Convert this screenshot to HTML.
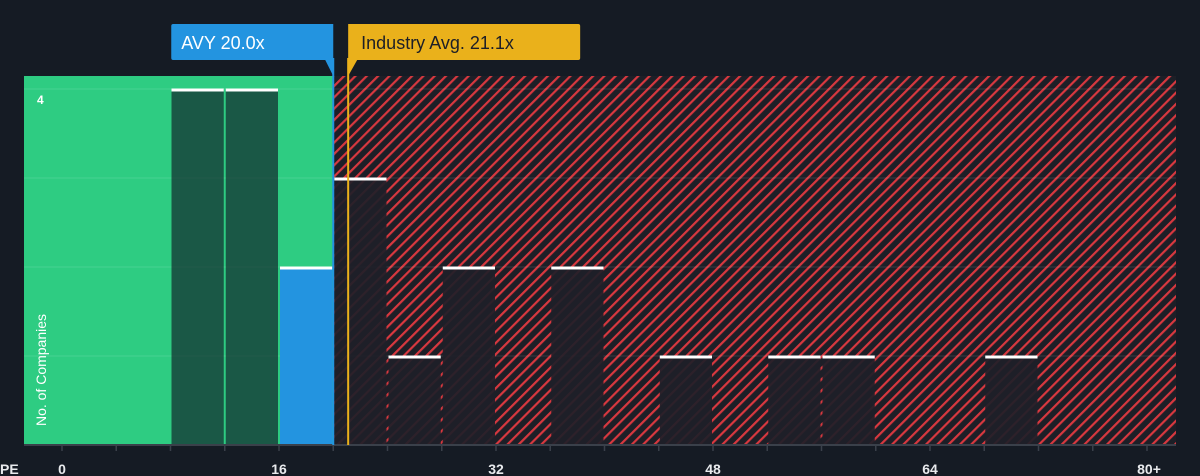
<!DOCTYPE html>
<html><head><meta charset="utf-8"><style>
body{margin:0;background:#151b24;}
svg{display:block;font-family:"Liberation Sans",sans-serif;}
</style></head><body>
<svg width="1200" height="476" viewBox="0 0 1200 476">
<defs>
<pattern id="hatch" patternUnits="userSpaceOnUse" width="8" height="8" patternTransform="rotate(45)">
<rect width="8" height="8" fill="#1d1f27"/>
<rect width="2.2" height="8" fill="#d8383f"/>
</pattern>
</defs>
<g id="bg"></g>
<g id="grid"></g>
<g id="bars"></g>
<g id="axis"></g>
<g id="markers"></g>
</svg>
<script>
const binStarts=[8,12,16,20,24,28,32,36,40,44,48,52,56,60,64,68,72];
const counts=[4,4,2,3,1,2,0,2,0,1,0,1,1,0,0,1,0];
const xTicks=[0,16,32,48,64,80];
const xTickLabels=["0","16","32","48","64","80+"];
const avyPE=20.0;
const industryPE=21.1;
const binWidth=4;
const NS="http://www.w3.org/2000/svg";
const X0=62,XS=217/16,Y0=445,YS=89;
const x=v=>X0+v*XS, y=v=>Y0-v*YS;
function mk(tag,attrs,parent){const e=document.createElementNS(NS,tag);for(const k in attrs)e.setAttribute(k,attrs[k]);parent.appendChild(e);return e;}
const bgG=document.getElementById('bg'),gridG=document.getElementById('grid'),barsG=document.getElementById('bars'),axisG=document.getElementById('axis'),markG=document.getElementById('markers');
const PLEFT=24,PRIGHT=1176,PTOP=76;
let r=mk('rect',{x:PLEFT,y:PTOP,width:x(avyPE)-PLEFT,height:Y0-PTOP,fill:'#2ecc82'},bgG);


r=mk('rect',{x:x(avyPE),y:PTOP,width:PRIGHT-x(avyPE),height:Y0-PTOP,fill:'url(#hatch)'},bgG);


[1,2,3,4].forEach(v=>{const l=mk('line',{x1:PLEFT,x2:PRIGHT,y1:y(v),y2:y(v),stroke:'rgba(255,255,255,0.12)','stroke-width':1},gridG);

});
binStarts.forEach((b,i)=>{const c=counts[i];if(!c)return;
const x1=x(b)+1,w=binWidth*XS-2;
const inGreen=b+binWidth<=avyPE;
const isAvy=b<=avyPE-0.001&&b+binWidth>=avyPE;
const fill=isAvy?'#2394e0':(inGreen?'rgba(20,50,50,0.75)':'rgba(30,32,40,0.92)');
const br=mk('rect',{x:x1,y:y(c),width:w,height:Y0-y(c),fill:fill},barsG);


const t=mk('line',{x1:x1,x2:x1+w,y1:y(c)+1,y2:y(c)+1,stroke:'#fff','stroke-width':3},barsG);

});
let a=mk('line',{x1:PLEFT,x2:PRIGHT,y1:Y0,y2:Y0,stroke:'#3a404a','stroke-width':2},axisG);


for(let v=0;v<=80;v+=4){const tk=mk('line',{x1:x(v),x2:x(v),y1:Y0,y2:Y0+6,stroke:'#3a404a','stroke-width':1.5},axisG);

}
xTicks.forEach((v,i)=>{const t=mk('text',{x:x(v)+(i==xTicks.length-1?2:0),y:474,fill:'#e8eaed','font-size':14,'font-weight':'bold','text-anchor':'middle'},axisG);t.textContent=xTickLabels[i];

});
let t=mk('text',{x:0,y:474,fill:'#e8eaed','font-size':14,'font-weight':'bold'},axisG);t.textContent='PE';


t=mk('text',{x:37,y:104,fill:'#fff','font-size':12,'font-weight':'bold'},axisG);t.textContent='4';


t=mk('text',{x:0,y:0,fill:'#fff','font-size':14,'text-anchor':'middle',transform:'translate(46,370) rotate(-90)'},axisG);t.textContent='No. of Companies';


const ax=x(avyPE),ix=x(industryPE);
let m=mk('line',{x1:ax,x2:ax,y1:58,y2:Y0,stroke:'#2394e0','stroke-width':2},markG);


m=mk('path',{d:`M${ax-162} 26 Q${ax-162} 24 ${ax-160} 24 L${ax} 24 L${ax} 76 L${ax-8} 60 L${ax-160} 60 Q${ax-162} 60 ${ax-162} 58 Z`,fill:'#2394e0'},markG);


t=mk('text',{x:ax-152,y:49,fill:'#fff','font-size':18},markG);t.textContent='AVY 20.0x';


m=mk('line',{x1:ix,x2:ix,y1:58,y2:Y0,stroke:'#eab11b','stroke-width':2},markG);


m=mk('path',{d:`M${ix} 24 L${ix+230} 24 Q${ix+232} 24 ${ix+232} 26 L${ix+232} 58 Q${ix+232} 60 ${ix+230} 60 L${ix+9} 60 L${ix} 76 Z`,fill:'#eab11b'},markG);


t=mk('text',{x:ix+13,y:49,fill:'#1d1f27','font-size':18},markG);t.textContent='Industry Avg. 21.1x';


</script>
</body></html>
